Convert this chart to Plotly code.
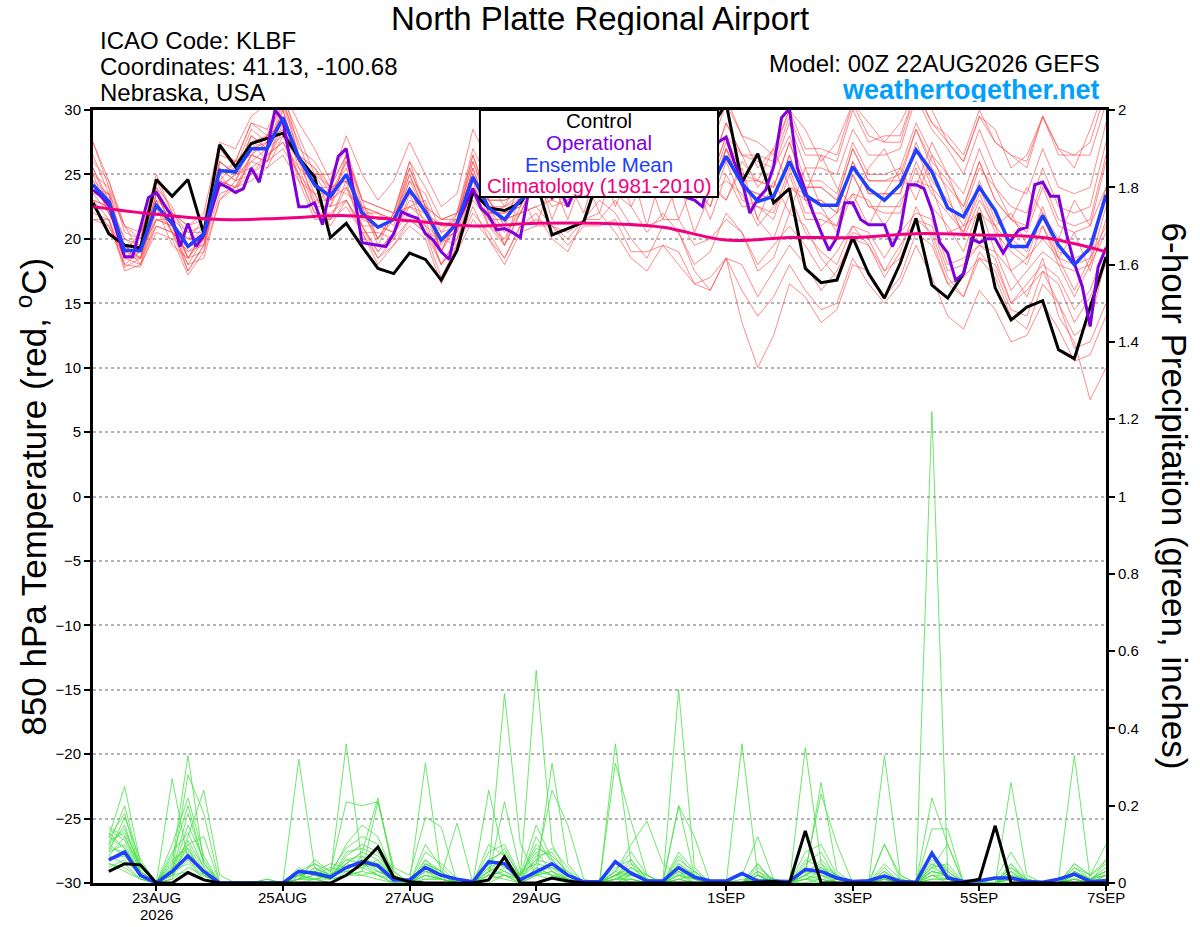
import pandas as pd
import plotly.graph_objects as go

# 6-hourly GEFS times, 00Z 22AUG2026 -> 00Z 07SEP2026
times = pd.date_range("2026-08-22 00:00", periods=65, freq="6h")
op_times = pd.date_range("2026-08-22 00:00", periods=129, freq="3h")
clim_times = pd.date_range("2026-08-22 00:00", periods=17, freq="1D")

tick_dates = ["2026-08-23", "2026-08-25", "2026-08-27", "2026-08-29",
              "2026-09-01", "2026-09-03", "2026-09-05", "2026-09-07"]
tick_text = ["23AUG", "25AUG", "27AUG", "29AUG", "1SEP", "3SEP", "5SEP", "7SEP"]
year_text = "2026"

# control run, 850 hPa temp (C)
control_t = [22.8, 20.4, 19.5, 19.3, 24.6, 23.3, 24.6, 20.4, 27.3, 25.6,
             27.4, 27.8, 28.2, 26.3, 24.8, 20.1, 21.2, 19.4, 17.7, 17.3,
             18.9, 18.4, 16.8, 19.1, 23.6, 22.4, 22.2, 22.8, 24.5, 20.3,
             20.8, 21.3, 25.0, 26.5, 25.5, 27.0, 26.0, 27.5, 26.5, 28.5,
             30.5, 24.4, 26.6, 22.8, 23.9, 17.7, 16.6, 16.8, 20.1, 17.3,
             15.4, 18.1, 21.6, 16.4, 15.4, 17.3, 22.0, 16.2, 13.7, 14.7,
             15.2, 11.4, 10.7, 14.7, 18.6]

# operational run (3-hourly)
oper_t = [23.8, 23.3, 22.6, 20.6, 18.6, 18.6, 20.9, 23.2, 23.6, 22.6,
          21.7, 19.4, 21.2, 19.4, 20.3, 22.3, 24.3, 24.0, 23.6, 23.9,
          25.5, 24.4, 27.0, 30.0, 29.2, 25.8, 22.5, 22.5, 22.8, 21.1,
          24.0, 26.4, 27.0, 23.4, 19.7, 19.6, 19.5, 19.4, 20.4, 22.1,
          21.8, 21.6, 20.4, 19.9, 19.0, 18.4, 21.2, 22.5, 23.9, 22.4,
          21.8, 20.7, 20.8, 20.5, 20.1, 23.5, 24.5, 24.0, 23.2, 23.8,
          22.5, 24.0, 25.0, 25.5, 26.0, 25.0, 24.5, 25.5, 26.5, 26.0,
          25.0, 24.0, 24.5, 24.0, 23.5, 23.2, 23.0, 22.5, 24.8, 27.5,
          27.9, 26.0, 24.5, 22.0, 23.1, 23.8, 25.6, 29.4, 30.1, 25.5,
          23.8, 22.0, 20.5, 19.1, 20.1, 22.8, 22.8, 21.5, 21.1, 21.1,
          21.1, 19.4, 20.7, 24.2, 24.2, 23.9, 22.2, 19.7, 18.9, 16.8,
          17.3, 20.0, 19.7, 20.0, 20.0, 18.9, 19.9, 20.7, 20.9, 24.2,
          24.4, 23.3, 23.3, 20.4, 18.1, 16.3, 13.2, 17.8, 19.3]

# ensemble mean
mean_t = [24.2, 22.9, 19.1, 19.1, 22.6, 21.2, 19.4, 20.4, 25.3, 25.2,
          27.0, 27.0, 29.4, 26.3, 24.2, 23.3, 25.0, 22.0, 20.9, 21.5,
          23.8, 22.1, 19.9, 21.2, 24.8, 22.4, 21.5, 23.0, 24.0, 23.5,
          23.5, 24.0, 24.5, 25.0, 24.5, 24.0, 25.0, 24.5, 24.0, 24.0,
          26.4, 24.3, 22.9, 23.3, 26.0, 23.4, 22.6, 22.6, 25.6, 23.9,
          23.0, 24.2, 26.9, 25.2, 22.4, 21.7, 24.0, 22.2, 19.4, 19.4,
          21.8, 19.5, 18.0, 19.3, 23.4]

# climatology at 00Z each day
clim_t = [22.5, 21.9, 21.5, 21.6, 21.8, 21.4, 21.0, 21.2, 21.2, 20.9,
          19.9, 20.1, 20.1, 20.4, 20.3, 20.1, 19.0]

# ensemble members (red)
t01 = [25.5, 23, 20, 19.5, 24, 22.5, 19.5, 21, 26, 25, 27.5, 28, 30.5,
       27.5, 24, 22.5, 26.5, 23, 20, 22, 26, 22.5, 19, 21.5, 26.5, 23,
       21, 24.5, 27, 25, 24, 26.5, 28, 29.5, 27, 25, 28, 26.5, 24,
       22.5, 27, 25, 21.5, 20, 23.5, 20.5, 19, 18, 21, 19.5, 17, 19,
       22.5, 20, 16.5, 15.5, 19, 17.5, 14.5, 14, 17.5, 15, 12.5, 13.5, 18.5]
t02 = [21.5, 21, 18, 17.8, 21, 20.5, 18, 18.5, 23, 24.5, 25, 26.5, 27.5,
       25, 23.5, 21, 23, 20.5, 18.5, 19.5, 21.5, 20.5, 18, 19.5, 22.5, 20,
       18.5, 21, 22, 20, 19, 21.5, 23, 22, 20, 18.5, 21, 20.5, 18,
       19, 22, 20.5, 17.5, 18.5, 22, 21, 18.5, 17, 20.5, 20, 17.5, 18.5,
       21.5, 20.5, 17, 15.5, 18.5, 17, 14, 13, 16.5, 15, 11.5, 12, 15]
t03 = [27.5, 24.5, 21, 20.5, 23, 22, 21, 22, 27.5, 27, 29.5, 30.5, 31.5,
       29, 27, 24.5, 28, 25, 23, 24.5, 27.5, 25, 22.5, 23.5, 28.5, 26,
       24.5, 27, 29, 28.5, 27, 29.5, 31, 30, 28, 29, 31, 29, 27.5,
       28.5, 31, 28, 25.5, 27, 30, 28.5, 26, 27.5, 30.5, 29, 27.5, 29,
       31.5, 30, 27.5, 26, 29.5, 28.5, 25.5, 26.5, 29.5, 27, 25.5, 28.5, 32]
t04 = [23, 21.5, 18.5, 19, 22.5, 21, 17.5, 19.5, 24.5, 24, 26, 25.5, 28,
       25, 22, 21.5, 24, 21, 19, 20.5, 22.5, 21.5, 18, 20, 23.5, 21,
       19.5, 22, 22.5, 21, 20.5, 21.5, 22, 20.5, 18.5, 17.5, 19.5, 18, 16.5,
       16, 18.5, 16, 14, 15.5, 18, 16, 14.5, 15, 18.5, 16.5, 15, 16.5,
       19.5, 17, 14, 13, 16, 14.5, 12, 12.5, 15, 13, 10.5, 11, 14]
t05 = [24.5, 23.5, 19, 18.5, 23.5, 21, 20, 21.5, 25, 26, 27, 27.5, 29.5,
       26, 25, 24, 24.5, 22.5, 22, 21, 24.5, 23.5, 20.5, 22, 25, 22,
       22.5, 23.5, 25.5, 24, 25.5, 25.5, 26.5, 27.5, 26, 26, 27.5, 25.5, 25.5,
       24.5, 28, 26.5, 24, 25.5, 28, 24.5, 24.5, 23.5, 27.5, 25, 25, 25.5,
       29, 26.5, 25, 23.5, 27, 24, 22.5, 22, 25.5, 22.5, 22, 22.5, 27.5]
t06 = [23.5, 22, 19.5, 18.5, 22, 21.5, 18.5, 20, 25.5, 24.5, 26.5, 27.5, 28.5,
       26.5, 23.5, 23.5, 25.5, 21.5, 21, 20.5, 23, 22.5, 20, 20.5, 24, 22.5,
       20.5, 22, 24.5, 22.5, 23, 24.5, 24, 23.5, 22.5, 20.5, 22, 20.5, 17.5,
       16, 18.5, 13.5, 10, 12.5, 16.5, 15.5, 13.5, 14.5, 18, 17.5, 15.5, 17,
       20.5, 19.5, 16.5, 17, 18.5, 18, 15, 16.5, 18, 17, 14.5, 16, 19.5]
t07 = [24, 23.5, 18.5, 19.5, 23, 20.5, 19, 20, 25, 25.5, 27.5, 27, 30,
       26, 24.5, 23, 25, 22.5, 21.5, 21.5, 24.5, 22, 20.5, 21, 25.5, 22,
       22, 22.5, 25, 23.5, 25, 24.5, 26, 25.5, 25.5, 23.5, 26, 24, 24,
       22.5, 26, 23, 22.5, 22, 25.5, 22, 22, 21, 25, 22.5, 22, 22,
       25.5, 22.5, 21, 19, 22.5, 19, 17.5, 15.5, 18.5, 14, 12, 7.5, 10]
t08 = [26, 24.5, 20.5, 20, 24.5, 22, 21, 21.5, 26.5, 26, 29, 28.5, 31,
       28, 25, 25, 27, 23, 22.5, 22, 26, 24, 21.5, 22, 27, 24.5,
       22.5, 25, 26.5, 25.5, 27.5, 27, 29, 29, 29.5, 27.5, 29.5, 28, 28.5,
       27, 30.5, 28, 27.5, 26.5, 30, 27, 27, 26.5, 30.5, 28, 27.5, 27.5,
       31.5, 29, 27.5, 26, 29.5, 27.5, 26.5, 25.5, 29.5, 27, 26.5, 26.5, 30.5]
t09 = [22.5, 21, 18.5, 18, 22.5, 19.5, 18.5, 19, 25, 23.5, 26.5, 26, 28.5,
       24.5, 23.5, 21.5, 24.5, 20.5, 20.5, 20, 23.5, 20.5, 20, 19.5, 24.5, 21,
       20, 22.5, 25.5, 21.5, 24.5, 22, 26, 22.5, 25.5, 21, 25.5, 21.5, 24.5,
       21.5, 25, 22.5, 22.5, 21.5, 25, 21.5, 21.5, 21, 25, 22.5, 22.5, 22.5,
       26, 23.5, 22, 20.5, 23.5, 20.5, 19, 18, 21, 18, 17.5, 18, 22.5]
t10 = [25, 22, 19.5, 18, 21.5, 21, 18.5, 20.5, 24, 25, 25.5, 26.5, 27.5,
       25.5, 22.5, 22.5, 23, 21, 18.5, 20, 21.5, 20.5, 17, 19.5, 22, 20.5,
       18.5, 21, 21.5, 21, 19.5, 21, 21, 21.5, 19, 19, 19.5, 19, 16.5,
       17, 18.5, 18, 15.5, 17.5, 19.5, 18, 16, 17.5, 20, 19.5, 17.5, 19.5,
       21.5, 21, 17.5, 18, 19.5, 19, 16, 17.5, 19, 18, 15.5, 18, 20.5]
t11 = [25, 24, 19, 20.5, 24, 21.5, 20.5, 20.5, 27, 25.5, 28.5, 27.5, 31,
       26.5, 25.5, 24, 26.5, 22.5, 22, 21.5, 25.5, 22.5, 21.5, 21.5, 26, 23,
       23, 23.5, 26, 24.5, 26, 26, 27.5, 27.5, 27.5, 25.5, 28, 26.5, 26.5,
       25.5, 29, 26.5, 26, 25.5, 29, 25.5, 25.5, 25, 28.5, 26.5, 26.5, 27,
       31, 28.5, 27, 25, 28.5, 25.5, 24, 23.5, 27, 24, 23.5, 24, 29]
t12 = [21.5, 21.5, 17.8, 18.5, 21, 20.5, 17.5, 19.5, 23.5, 24, 25, 26, 27,
       25, 22, 22, 23, 21, 19, 20.5, 22, 21, 18, 20, 23, 21.5,
       19.5, 22, 22.5, 23, 22.5, 24.5, 24, 25.5, 24, 24.5, 24.5, 25, 23.5,
       24.5, 23, 26, 24.5, 27, 24, 23.5, 26.5, 24, 22.5, 25.5, 27, 24.5,
       24, 27.5, 25, 22, 25.5, 24, 21.5, 24, 22, 20, 23, 21, 24]
t13 = [26.5, 23.5, 21, 19, 23.5, 21, 20, 20, 26, 25, 28, 27, 30,
       26, 25, 23, 26, 22, 22, 21.5, 25, 22, 21, 21.5, 26, 22.5,
       22.5, 23, 25, 23, 24.5, 24, 25.5, 25, 25.5, 24, 26, 24.5, 25,
       23.5, 27, 24, 23.5, 23, 26.5, 23, 23, 22, 26, 23.5, 23.5, 23.5,
       27, 24, 22.5, 20.5, 24, 21, 19.5, 18.5, 22, 18.5, 18, 18.5, 23.5]
t14 = [24.5, 22, 19.5, 18.5, 23, 20.5, 19.5, 19.5, 25.5, 24.5, 27.5, 26, 29.5,
       25.5, 24.5, 22.5, 25, 21, 21, 20.5, 24, 21, 20, 20.5, 25, 21.5,
       21.5, 22, 24.5, 23, 24.5, 24.5, 26, 26, 26.5, 25, 27, 25.5, 26.5,
       25.5, 29, 26.5, 26.5, 26, 29.5, 26.5, 26.5, 26, 30, 27.5, 28, 28,
       31.5, 29, 28, 26.5, 30, 27.5, 26.5, 26, 29.5, 26.5, 26.5, 27.5, 31.5]
t15 = [23, 22.5, 18, 19, 21.5, 21, 18, 20, 24, 25, 26, 27, 28,
       26, 23, 23, 24, 22, 20, 21.5, 22.5, 22, 19, 21, 23.5, 22.5,
       19.5, 23.5, 21, 24.5, 21.5, 25, 22, 26, 22.5, 25, 21.5, 24.5, 20.5,
       23.5, 24.5, 23.5, 21, 22.5, 24, 23, 21, 22, 23.5, 23, 21, 23,
       24.5, 24, 20.5, 21, 22, 21, 17.5, 18.5, 20, 18.5, 16, 18.5, 21]
t16 = [27.5, 24, 21, 20, 25, 22, 20.5, 21, 27, 26, 29, 28, 31.5,
       27, 26, 24, 26.5, 23, 22.5, 22, 25.5, 22.5, 21.5, 22, 26.5, 23,
       23, 23.5, 26, 24.5, 26, 25.5, 27, 26.5, 27, 25.5, 27.5, 26, 26,
       24.5, 28, 25, 24.5, 24, 27.5, 24, 24, 23, 27, 24.5, 24.5, 24.5,
       28.5, 25.5, 24, 22.5, 26, 23, 21.5, 21, 24.5, 21.5, 21, 21.5, 26.5]
t17 = [22, 21.5, 17.5, 18, 20.5, 20, 17.2, 19, 23, 24, 24.5, 25.5, 26.5,
       24.5, 21.5, 21.5, 22.5, 20.5, 18, 19.5, 21, 20, 16.5, 19, 21.5, 20,
       18, 20.5, 21, 21, 20, 21.5, 21.5, 23, 21, 21, 21.5, 21.5, 19.5,
       20, 21.5, 20.5, 18, 19.5, 21, 19.5, 17.5, 19, 21, 20.5, 18.5, 20.5,
       22, 21.5, 18, 18.5, 19.5, 18.5, 15, 16, 17.5, 16.5, 13.5, 15.5, 18]
t18 = [25.5, 22.5, 20, 19, 23.5, 21, 20, 20, 26, 25, 28, 27, 30.5,
       26.5, 25.5, 23.5, 26, 22, 21.5, 21.5, 25, 22, 21, 21, 25.5, 22,
       22, 22.5, 25, 23.5, 25, 25, 26.5, 26, 26.5, 24.5, 26.5, 25, 25.5,
       24, 27.5, 24.5, 24.5, 24, 27.5, 24, 24, 23, 27, 24.5, 24.5, 25,
       28.5, 26, 24.5, 22.5, 26, 23, 21.5, 20.5, 24, 21, 20.5, 21, 26]
t19 = [23.5, 23.5, 19, 19, 21.5, 21.5, 18.5, 20.5, 24.5, 26, 26.5, 28, 29,
       26.5, 24, 24, 24.5, 22.5, 20, 22, 23.5, 22.5, 19.5, 21.5, 24.5, 23,
       21, 23.5, 23.5, 23.5, 23, 25, 24.5, 26, 24, 24.5, 24.5, 24.5, 23,
       24, 23, 25.5, 21.5, 24.5, 22, 25.5, 22.5, 20.5, 23.5, 21, 23.5, 25.5,
       23, 26.5, 23.5, 20, 23, 21, 22, 19.5, 21, 18.5, 20.5, 17.5, 21.5]
t20 = [23, 22.5, 18.5, 18.5, 22.5, 20.5, 19, 19.5, 24.5, 24, 26.5, 26, 29,
       26.5, 22.5, 24, 23.5, 22.5, 19.5, 22, 22.5, 23, 19, 22, 23.5, 23,
       21.5, 22, 24.5, 23, 24.5, 24, 25.5, 25, 25.5, 24, 26, 24, 24.5,
       23.5, 27, 24, 23.5, 23, 26.5, 23, 23, 22, 26, 23.5, 23.5, 23.5,
       27.5, 24.5, 23, 21, 24.5, 21.5, 20, 19, 22.5, 19, 18.5, 19, 24]

# 6-hour precip (inches), first value valid 06Z 22AUG
control_p = [0.03, 0.05, 0.047, 0, 0, 0.027, 0.008, 0,
             0, 0, 0, 0, 0, 0, 0, 0.02,
             0.05, 0.093, 0.015, 0.003, 0, 0, 0, 0,
             0.008, 0.068, 0, 0, 0.013, 0.005, 0, 0,
             0, 0, 0, 0, 0, 0, 0, 0,
             0, 0.002, 0.004, 0, 0.135, 0, 0, 0,
             0, 0, 0, 0, 0, 0, 0.002, 0.01,
             0.148, 0, 0, 0, 0, 0, 0, 0]
mean_p = [0.06, 0.08, 0.02, 0, 0.03, 0.07, 0.03, 0,
          0, 0, 0, 0, 0.03, 0.025, 0.015, 0.04,
          0.055, 0.045, 0.008, 0.008, 0.04, 0.02, 0.01, 0.003,
          0.055, 0.05, 0.008, 0.03, 0.05, 0.02, 0.003, 0.003,
          0.055, 0.025, 0.005, 0.005, 0.04, 0.015, 0.005, 0.005,
          0.025, 0.005, 0.004, 0.004, 0.035, 0.03, 0.013, 0.004,
          0.006, 0.018, 0.004, 0.002, 0.077, 0.013, 0.004, 0.006,
          0.013, 0.013, 0.004, 0.002, 0.01, 0.023, 0.004, 0.006]

p01 = [0.12, 0.25, 0.05, 0, 0.02, 0.1, 0.03, 0, 0, 0, 0, 0, 0.02, 0.05, 0.02, 0.36,
       0.05, 0.02, 0, 0, 0.04, 0.01, 0, 0, 0.03, 0.49, 0.1, 0.02, 0.05, 0.01, 0, 0,
       0.02, 0, 0, 0, 0.03, 0, 0, 0, 0, 0.05, 0, 0, 0.35, 0.05, 0, 0,
       0, 0.01, 0, 0, 0.02, 0, 0, 0, 0, 0, 0, 0, 0, 0.02, 0.01, 0]
p02 = [0.08, 0.17, 0.06, 0, 0.27, 0.06, 0.02, 0, 0, 0, 0, 0, 0.32, 0.04, 0.01, 0.02,
       0.03, 0.21, 0.03, 0, 0.02, 0.01, 0, 0, 0.06, 0.05, 0.02, 0.55, 0.1, 0.02, 0, 0,
       0.01, 0.01, 0, 0, 0.05, 0.02, 0, 0, 0, 0.02, 0, 0, 0, 0.01, 0, 0,
       0, 0.02, 0.01, 0, 0.03, 0.02, 0, 0, 0, 0.26, 0.02, 0, 0, 0, 0, 0.01]
p03 = [0.145, 0.12, 0.04, 0, 0.05, 0.33, 0.05, 0, 0, 0, 0.01, 0, 0.02, 0.01, 0, 0.03,
       0.07, 0.04, 0.01, 0, 0.31, 0.02, 0, 0, 0, 0.02, 0.01, 0.02, 0.31, 0.05, 0, 0,
       0.36, 0.05, 0, 0, 0.01, 0, 0, 0, 0, 0.01, 0, 0, 0.02, 0.26, 0.03, 0,
       0, 0, 0, 0, 1.22, 0.02, 0, 0, 0, 0.01, 0, 0, 0, 0, 0, 0]
p04 = [0.13, 0.09, 0.02, 0, 0.03, 0.28, 0.18, 0, 0, 0, 0, 0, 0.01, 0.06, 0.03, 0.21,
       0.2, 0.21, 0.04, 0.02, 0.17, 0.145, 0, 0, 0.24, 0.06, 0, 0.04, 0.02, 0.01, 0, 0,
       0, 0.02, 0.01, 0, 0.5, 0.04, 0, 0, 0, 0.02, 0, 0, 0, 0, 0.01, 0,
       0, 0.33, 0.02, 0, 0.05, 0.01, 0, 0, 0, 0.01, 0, 0, 0, 0.04, 0.02, 0.06]
p05 = [0.115, 0.18, 0.03, 0, 0.01, 0.12, 0.24, 0.02, 0, 0, 0, 0, 0.02, 0.03, 0.05, 0.04,
       0.06, 0.05, 0.02, 0, 0.03, 0.02, 0.155, 0, 0.02, 0.21, 0.03, 0.05, 0.24, 0.15, 0.01, 0,
       0.31, 0.16, 0.02, 0, 0.2, 0.12, 0, 0, 0.02, 0.12, 0.01, 0, 0.03, 0.23, 0.1, 0,
       0.01, 0.02, 0.01, 0, 0.22, 0.1, 0, 0, 0.01, 0.08, 0.01, 0, 0, 0.05, 0.02, 0.1]
p06 = [0.08, 0.1, 0.02, 0, 0.04, 0.07, 0.03, 0, 0, 0, 0, 0, 0.03, 0.02, 0.01, 0.05,
       0.08, 0.06, 0.02, 0, 0.05, 0.03, 0, 0, 0.01, 0.04, 0.02, 0.08, 0.03, 0.01, 0, 0,
       0.03, 0.1, 0.16, 0.05, 0.02, 0.01, 0, 0, 0.36, 0.02, 0.01, 0, 0.08, 0.1, 0.02, 0,
       0, 0.1, 0.02, 0, 0.14, 0.14, 0, 0, 0, 0.02, 0, 0, 0, 0.01, 0, 0.06]
p07 = [0.1, 0.14, 0.04, 0, 0.06, 0.09, 0.02, 0, 0, 0, 0.01, 0, 0.01, 0.04, 0.02, 0.03,
       0.04, 0.02, 0.01, 0, 0.02, 0.01, 0, 0, 0.05, 0.03, 0.01, 0.03, 0.04, 0.02, 0, 0,
       0.02, 0.04, 0.02, 0, 0.03, 0.02, 0, 0, 0.01, 0.01, 0, 0, 0.02, 0.04, 0.02, 0,
       0, 0.01, 0, 0, 0.04, 0.1, 0, 0, 0, 0.02, 0.01, 0, 0.01, 0.33, 0.01, 0.03]
p08 = [0.07, 0.05, 0.01, 0, 0.03, 0.05, 0.01, 0, 0, 0, 0, 0, 0, 0.01, 0.02, 0.06,
       0.05, 0.04, 0, 0, 0.01, 0.01, 0, 0, 0.02, 0.01, 0, 0.02, 0.03, 0, 0, 0,
       0, 0.01, 0, 0, 0.2, 0.02, 0, 0, 0, 0, 0, 0, 0.01, 0, 0, 0,
       0, 0, 0, 0, 0.02, 0.02, 0, 0, 0, 0.01, 0, 0, 0, 0.02, 0.01, 0.02]
p09 = [0.14, 0.11, 0.03, 0, 0.02, 0.15, 0.06, 0, 0, 0, 0, 0, 0.02, 0.03, 0.01, 0.08,
       0.09, 0.07, 0.02, 0, 0.06, 0.02, 0, 0, 0.1, 0.07, 0.01, 0.12, 0.05, 0.03, 0, 0,
       0.04, 0.06, 0.01, 0, 0.02, 0.03, 0, 0, 0, 0.03, 0, 0, 0.04, 0.03, 0.01, 0,
       0, 0.02, 0, 0, 0.05, 0.03, 0, 0, 0, 0.03, 0, 0, 0, 0.03, 0.01, 0.02]
p10 = [0.09, 0.08, 0.02, 0, 0.07, 0.2, 0.05, 0, 0, 0, 0, 0, 0.04, 0.02, 0.01, 0.07,
       0.1, 0.08, 0.01, 0, 0.08, 0.05, 0.01, 0, 0.05, 0.09, 0.01, 0.07, 0.08, 0.02, 0, 0,
       0.03, 0.02, 0.01, 0, 0.06, 0.03, 0, 0, 0, 0.02, 0, 0, 0.03, 0.05, 0.02, 0,
       0, 0.03, 0, 0, 0.03, 0.02, 0, 0, 0, 0.05, 0, 0, 0, 0.01, 0, 0]
p11 = [0.05, 0.04, 0.01, 0, 0.01, 0.04, 0.02, 0, 0, 0, 0, 0, 0.01, 0.01, 0, 0.02,
       0.03, 0.02, 0, 0, 0.02, 0.01, 0, 0, 0.03, 0.02, 0, 0.04, 0.02, 0.01, 0, 0,
       0.01, 0.03, 0, 0, 0.01, 0, 0, 0, 0, 0.01, 0, 0, 0.01, 0.02, 0, 0,
       0, 0.01, 0, 0, 0.01, 0.01, 0, 0, 0, 0.01, 0, 0, 0, 0.01, 0, 0.01]
p12 = [0.11, 0.13, 0.05, 0, 0.08, 0.13, 0.04, 0, 0, 0, 0, 0, 0.03, 0.05, 0.03, 0.09,
       0.12, 0.1, 0.03, 0, 0.1, 0.04, 0, 0, 0.06, 0.04, 0.02, 0.06, 0.09, 0.04, 0, 0,
       0.02, 0.05, 0.02, 0, 0.04, 0.01, 0, 0, 0, 0.03, 0.01, 0, 0.05, 0.08, 0.01, 0,
       0, 0.1, 0.01, 0, 0.06, 0.04, 0, 0, 0, 0.04, 0.01, 0, 0, 0.02, 0.01, 0.04]
p13 = [0.06, 0.07, 0.02, 0, 0.02, 0.06, 0.01, 0, 0, 0, 0, 0, 0.02, 0.03, 0.01, 0.04,
       0.05, 0.03, 0.01, 0, 0.03, 0.02, 0, 0, 0.02, 0.03, 0.01, 0.03, 0.02, 0.01, 0, 0,
       0.01, 0.02, 0.01, 0, 0.02, 0.01, 0, 0, 0, 0.01, 0, 0, 0.02, 0.01, 0, 0,
       0, 0.01, 0, 0, 0.03, 0.02, 0, 0, 0, 0.01, 0, 0, 0, 0.01, 0, 0.02]
p14 = [0.1, 0.2, 0.04, 0, 0.1, 0.22, 0.07, 0, 0, 0, 0, 0, 0.02, 0.03, 0.02, 0.1,
       0.15, 0.12, 0.02, 0, 0.05, 0.03, 0, 0, 0.08, 0.1, 0.02, 0.15, 0.06, 0.02, 0, 0,
       0.03, 0.08, 0.02, 0, 0.07, 0.02, 0, 0, 0, 0.04, 0.01, 0, 0.02, 0.06, 0.02, 0,
       0, 0.04, 0, 0, 0.04, 0.05, 0, 0, 0, 0.05, 0.01, 0, 0, 0.04, 0.01, 0.03]
p15 = [0.04, 0.06, 0.02, 0, 0.02, 0.08, 0.03, 0, 0, 0, 0, 0, 0.01, 0.02, 0.04, 0.03,
       0.02, 0.03, 0.01, 0, 0.04, 0.02, 0, 0, 0.03, 0.05, 0.01, 0.02, 0.03, 0.01, 0, 0,
       0.01, 0.03, 0.01, 0, 0.01, 0.02, 0, 0, 0, 0.01, 0, 0, 0.03, 0.02, 0, 0,
       0, 0.02, 0, 0, 0.02, 0.01, 0, 0, 0, 0.02, 0, 0, 0, 0.02, 0, 0.01]
p16 = [0.12, 0.09, 0.03, 0, 0.05, 0.1, 0.12, 0, 0, 0, 0, 0, 0.01, 0.04, 0.02, 0.05,
       0.08, 0.22, 0.02, 0, 0.06, 0.03, 0, 0, 0.04, 0.06, 0.02, 0.09, 0.07, 0.03, 0, 0,
       0.02, 0.04, 0.01, 0, 0.08, 0.03, 0, 0, 0, 0.02, 0, 0, 0.06, 0.04, 0.01, 0,
       0, 0.05, 0.01, 0, 0.07, 0.03, 0, 0, 0, 0.03, 0, 0, 0, 0.05, 0.02, 0.05]
p17 = [0.07, 0.12, 0.03, 0, 0.03, 0.18, 0.05, 0, 0, 0, 0, 0, 0.01, 0.02, 0.01, 0.04,
       0.06, 0.05, 0.01, 0, 0.03, 0.01, 0, 0, 0.04, 0.02, 0.01, 0.05, 0.04, 0.01, 0, 0,
       0.02, 0.02, 0.01, 0, 0.03, 0.01, 0, 0, 0, 0.02, 0, 0, 0.01, 0.03, 0, 0,
       0, 0.01, 0, 0, 0.03, 0.02, 0, 0, 0, 0.02, 0, 0, 0, 0.02, 0, 0.02]
p18 = [0.09, 0.15, 0.03, 0, 0.04, 0.11, 0.04, 0, 0, 0, 0, 0, 0.02, 0.01, 0.02, 0.06,
       0.07, 0.03, 0.02, 0, 0.05, 0.02, 0, 0, 0.06, 0.08, 0.02, 0.1, 0.06, 0.02, 0, 0,
       0.02, 0.06, 0.01, 0, 0.05, 0.02, 0, 0, 0, 0.05, 0, 0, 0.04, 0.02, 0.01, 0,
       0, 0.03, 0, 0, 0.08, 0.03, 0, 0, 0, 0.04, 0, 0, 0, 0.03, 0.01, 0.03]
p19 = [0.05, 0.03, 0.01, 0, 0.02, 0.03, 0.01, 0, 0, 0, 0, 0, 0.01, 0.01, 0.01, 0.02,
       0.02, 0.01, 0, 0, 0.01, 0.01, 0, 0, 0.01, 0.02, 0, 0.02, 0.01, 0, 0, 0,
       0.01, 0.01, 0, 0, 0.02, 0, 0, 0, 0, 0.01, 0, 0, 0.01, 0.01, 0, 0,
       0, 0, 0, 0, 0.01, 0.01, 0, 0, 0, 0.01, 0, 0, 0, 0.01, 0, 0.01]
p20 = [0.1, 0.07, 0.02, 0, 0.03, 0.09, 0.02, 0, 0, 0, 0, 0, 0.02, 0.03, 0.02, 0.05,
       0.04, 0.06, 0.01, 0, 0.04, 0.02, 0, 0, 0.03, 0.05, 0.01, 0.06, 0.05, 0.02, 0, 0,
       0.02, 0.03, 0.01, 0, 0.04, 0.01, 0, 0, 0, 0.02, 0, 0, 0.02, 0.04, 0.01, 0,
       0, 0.03, 0, 0, 0.04, 0.02, 0, 0, 0, 0.03, 0, 0, 0, 0.03, 0.01, 0.02]

temp_members = [t01, t02, t03, t04, t05, t06, t07, t08, t09, t10,
                t11, t12, t13, t14, t15, t16, t17, t18, t19, t20]
precip_members = [p01, p02, p03, p04, p05, p06, p07, p08, p09, p10,
                  p11, p12, p13, p14, p15, p16, p17, p18, p19, p20]

for m in temp_members:
    assert len(m) == 65, len(m)
for m in precip_members:
    assert len(m) == 64, len(m)

FONT = "Liberation Sans, Arial, Helvetica, sans-serif"
RED = "rgba(255,70,70,0.9)"
GREEN = "rgb(70,225,70)"
PURPLE = "rgb(128,0,220)"
BLUE = "rgb(32,64,255)"
PINK = "rgb(240,0,128)"

fig = go.Figure()
ptimes = times[1:]

# members first so the thick lines sit on top
for m in temp_members:
    fig.add_trace(go.Scatter(x=times, y=m, mode="lines",
                             line=dict(color=RED, width=0.7), yaxis="y"))
for m in precip_members:
    fig.add_trace(go.Scatter(x=ptimes, y=m, mode="lines",
                             line=dict(color=GREEN, width=0.8), yaxis="y2"))

fig.add_trace(go.Scatter(x=ptimes, y=mean_p, mode="lines",
                         line=dict(color=BLUE, width=3.5), yaxis="y2"))
fig.add_trace(go.Scatter(x=ptimes, y=control_p, mode="lines",
                         line=dict(color="black", width=3), yaxis="y2"))

fig.add_trace(go.Scatter(x=times, y=control_t, mode="lines",
                         line=dict(color="black", width=3)))
fig.add_trace(go.Scatter(x=op_times, y=oper_t, mode="lines",
                         line=dict(color=PURPLE, width=3)))
fig.add_trace(go.Scatter(x=times, y=mean_t, mode="lines",
                         line=dict(color=BLUE, width=3.5)))
fig.add_trace(go.Scatter(x=clim_times, y=clim_t, mode="lines",
                         line=dict(color=PINK, width=3, shape="spline")))

fig.update_layout(
    width=1200, height=927,
    margin=dict(l=93, r=94, t=110, b=44),
    paper_bgcolor="white", plot_bgcolor="white",
    showlegend=False,
    font=dict(family=FONT, color="black", size=15),
    xaxis=dict(
        range=[times[0], times[-1]],
        tickvals=pd.to_datetime(tick_dates), showticklabels=False,
        ticks="outside", ticklen=5, tickwidth=1.5, tickcolor="black",
        showline=True, linewidth=3, linecolor="black", mirror=True,
        showgrid=False, zeroline=False, automargin=False,
    ),
    yaxis=dict(
        range=[-30, 30], tickvals=list(range(-30, 31, 5)),
        ticks="outside", ticklen=6, tickwidth=1.5, tickcolor="black",
        showline=True, linewidth=3, linecolor="black", mirror=True,
        showgrid=True, gridcolor="#b4b4b4", griddash="dot", gridwidth=1.5,
        zeroline=False, tickfont=dict(size=15), automargin=False,
    ),
    yaxis2=dict(
        range=[0, 2], overlaying="y", side="right",
        tickvals=[0, 0.2, 0.4, 0.6, 0.8, 1, 1.2, 1.4, 1.6, 1.8, 2],
        ticktext=["0", "0.2", "0.4", "0.6", "0.8", "1", "1.2", "1.4", "1.6", "1.8", "2"],
        ticks="outside", ticklen=6, tickwidth=1.5, tickcolor="black",
        showline=True, linewidth=3, linecolor="black",
        showgrid=False, zeroline=False, tickfont=dict(size=15), automargin=False,
    ),
)

ann = []
# date labels sit closer to the axis than plotly's own tick labels
for d, txt in zip(tick_dates, tick_text):
    ann.append(dict(text=txt, x=d, xref="x", y=-0.0185, font=dict(size=15), height=12))
ann.append(dict(text=year_text, x=tick_dates[0], xref="x", y=-0.0395,
                font=dict(size=15), height=12))

ann.append(dict(text="North Platte Regional Airport", x=0.5, y=1.119,
                font=dict(size=33), height=34))
for txt, yy in [("ICAO Code: KLBF", 1.0906), ("Coordinates: 41.13, -100.68", 1.0569),
                ("Nebraska, USA", 1.0233)]:
    ann.append(dict(text=txt, x=0.005, y=yy, xanchor="left", font=dict(size=24), height=24))
ann.append(dict(text="Model: 00Z 22AUG2026 GEFS", x=0.996, y=1.0608,
                xanchor="right", font=dict(size=24), height=24))
ann.append(dict(text="<b>weathertogether.net</b>", x=0.996, y=1.0265,
                xanchor="right", font=dict(size=27, color="rgb(0,160,255)"), height=24))
ann.append(dict(text="850 hPa Temperature (red, <sup>o</sup>C)", x=-0.061, y=0.5,
                textangle=-90, font=dict(size=35)))
ann.append(dict(text="6-hour Precipitation (green, inches)", x=1.068, y=0.5,
                textangle=90, font=dict(size=35)))

# legend box: white rectangle with one centred line per series
legend_lines = [("Control", "black", 0.9858), ("Operational", PURPLE, 0.9586),
                ("Ensemble Mean", BLUE, 0.9301), ("Climatology (1981-2010)", PINK, 0.9017)]
for txt, col, yy in legend_lines:
    ann.append(dict(text=txt, x=0.4995, y=yy, font=dict(size=20.5, color=col), height=21))

for a in ann:
    a.setdefault("xref", "paper")
    a.setdefault("yref", "paper")
    a.setdefault("showarrow", False)
    a.setdefault("yanchor", "middle")
    a.setdefault("xanchor", "center")
fig.update_layout(annotations=ann)

fig.add_shape(type="rect", xref="paper", yref="paper",
              x0=0.382, x1=0.617, y0=0.8874, y1=1.0,
              fillcolor="white", line=dict(color="black", width=2), layer="above")

# drop the browser's default 8px body margin so the figure fills the window
fig.write_html("out.html", config={"displayModeBar": False},
               post_script="document.body.style.margin='0px';")
